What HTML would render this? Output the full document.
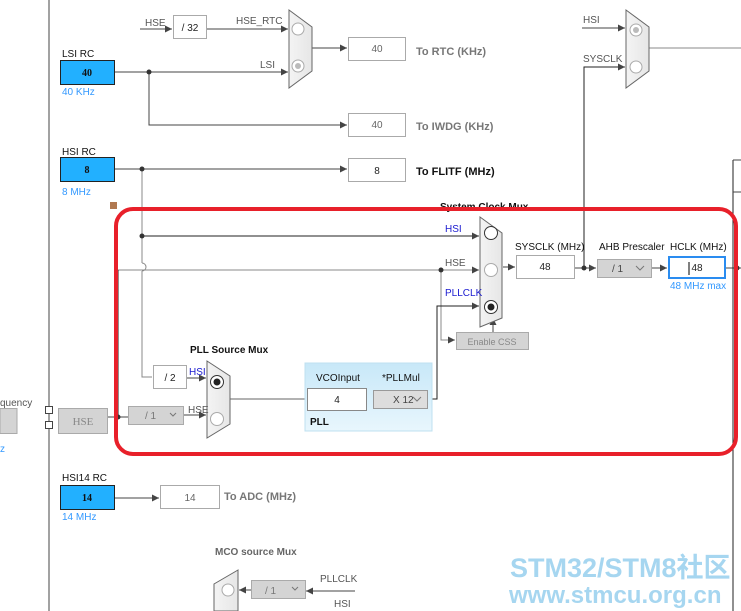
<!DOCTYPE html>
<html><head><meta charset="utf-8"><style>
html,body{margin:0;padding:0;background:#fff;}
svg{display:block;font-family:"Liberation Sans",sans-serif;}
</style></head><body>
<svg width="741" height="611" viewBox="0 0 741 611" xmlns="http://www.w3.org/2000/svg">
<defs>
<marker id="a" viewBox="0 0 10 10" refX="10" refY="5" markerWidth="8" markerHeight="7" orient="auto" markerUnits="userSpaceOnUse"><path d="M0,0 L10,5 L0,10 z" fill="#444"/></marker>
<linearGradient id="pll" x1="0" y1="0" x2="0" y2="1"><stop offset="0" stop-color="#c8e8f8"/><stop offset="1" stop-color="#e8f6fd"/></linearGradient>
<linearGradient id="mx" x1="0" y1="0" x2="1" y2="0"><stop offset="0" stop-color="#f4f4f4"/><stop offset="1" stop-color="#e6e6e6"/></linearGradient>
</defs>
<g stroke="#444" stroke-width="1" fill="none">
<line x1="49" y1="0" x2="49" y2="611"/>
<line x1="140" y1="29" x2="172" y2="29" marker-end="url(#a)"/>
<line x1="206" y1="29" x2="288" y2="29" marker-end="url(#a)"/>
<line x1="312" y1="48" x2="347" y2="48" marker-end="url(#a)"/>
<line x1="114" y1="72" x2="288" y2="72" marker-end="url(#a)"/>
<polyline points="149,72 149,125 347,125" marker-end="url(#a)"/>
<line x1="114" y1="169" x2="347" y2="169" marker-end="url(#a)"/>
<polyline stroke="#888" points="142,169 142,263"/>
<path stroke="#888" d="M142,263 a4,4 0 0 1 0,8"/>
<polyline stroke="#888" points="142,271 142,377 152,377"/>
<line x1="142" y1="236" x2="479" y2="236" stroke="#222" marker-end="url(#a)"/>
<line x1="118" y1="270" x2="479" y2="270" stroke="#888" marker-end="url(#a)"/>
<line x1="118" y1="270" x2="118" y2="417" stroke="#222"/>
<polyline stroke="#888" points="441,270 441,340 455,340" marker-end="url(#a)"/>
<polyline stroke="#222" points="427,399 437,399 437,306 479,306" marker-end="url(#a)"/>
<line x1="493" y1="332" x2="493" y2="318" marker-end="url(#a)"/>
<line x1="186" y1="378" x2="206" y2="378" marker-end="url(#a)"/>
<line x1="183" y1="415" x2="206" y2="415" marker-end="url(#a)"/>
<line x1="107" y1="417" x2="128" y2="417"/>
<line x1="230" y1="399" x2="306" y2="399" stroke="#666"/>
<line x1="366" y1="399" x2="373" y2="399"/>
<line x1="503" y1="267" x2="515" y2="267" marker-end="url(#a)"/>
<line x1="574" y1="268" x2="596" y2="268" marker-end="url(#a)"/>
<polyline stroke="#222" points="584,268 584,67 625,67" marker-end="url(#a)"/>
<line x1="582" y1="28" x2="625" y2="28" marker-end="url(#a)"/>
<line x1="649" y1="48" x2="741" y2="48" stroke="#888"/>
<line x1="651" y1="268" x2="667" y2="268" marker-end="url(#a)"/>
<line x1="726" y1="268" x2="741" y2="268"/>
<line x1="733" y1="160" x2="733" y2="611" stroke="#222"/>
<line x1="733" y1="160" x2="741" y2="160"/>
<line x1="733" y1="192" x2="741" y2="192"/>
<line x1="114" y1="498" x2="159" y2="498" marker-end="url(#a)"/>
<line x1="355" y1="591" x2="306" y2="591" marker-end="url(#a)"/>
<line x1="251" y1="590" x2="239" y2="590" marker-end="url(#a)"/>
</g>
<g fill="#333">
<circle cx="149" cy="72" r="2.5"/><circle cx="142" cy="169" r="2.5"/><circle cx="142" cy="236" r="2.5"/>
<circle cx="441" cy="270" r="2.5"/><circle cx="584" cy="268" r="2.5"/><circle cx="118" cy="417" r="2.5"/><circle cx="737" cy="268" r="2.5"/>
</g>
<g stroke="#666" fill="url(#mx)">
<polygon points="289,10 312,27 312,71 289,88"/>
<polygon points="626,10 649,27 649,71 626,88"/>
<polygon points="480,217 502,233 502,318 480,327"/>
<polygon points="207,361 230,376 230,424 207,438"/>
<polygon points="238,570 214,584 214,611 238,611"/>
</g>
<g stroke="#aaa" fill="#fff">
<circle cx="298" cy="29" r="6"/><circle cx="298" cy="66" r="6"/>
<circle cx="636" cy="30" r="6"/><circle cx="636" cy="67" r="6"/>
<circle cx="491" cy="270" r="6.5"/><circle cx="217" cy="419" r="6.5"/><circle cx="228" cy="590" r="6"/>
</g>
<g stroke="#333" fill="#fff"><circle cx="491" cy="233" r="6.5"/><circle cx="491" cy="307" r="6.5"/><circle cx="217" cy="382" r="6.5"/></g>
<g fill="#bbb"><circle cx="298" cy="66" r="3"/><circle cx="636" cy="30" r="3"/></g>
<g fill="#222"><circle cx="491" cy="307" r="3.5"/><circle cx="217" cy="382" r="3.5"/></g>
<g stroke="#aaa" fill="#fff">
<rect x="173.5" y="15.5" width="33" height="23"/>
<rect x="348.5" y="37.5" width="57" height="23"/>
<rect x="348.5" y="113.5" width="57" height="23"/>
<rect x="348.5" y="158.5" width="57" height="23"/>
<rect x="153.5" y="365.5" width="33" height="23"/>
<rect x="516.5" y="255.5" width="58" height="23"/>
<rect x="160.5" y="485.5" width="59" height="23"/>
</g>
<g stroke="#222" fill="#22b0ff">
<rect x="60.5" y="60.5" width="54" height="24"/>
<rect x="60.5" y="157.5" width="54" height="24"/>
<rect x="60.5" y="485.5" width="54" height="24"/>
</g>
<g stroke="#aaa" fill="#d4d4d4">
<rect x="128.5" y="406.5" width="55" height="18"/>
<rect x="58.5" y="408.5" width="49" height="25"/>
<rect x="0" y="408.5" width="17" height="25"/>
<rect x="456.5" y="332.5" width="72" height="17"/>
<rect x="597.5" y="259.5" width="54" height="18"/>
<rect x="251.5" y="580.5" width="54" height="18"/>
</g>
<rect x="45.5" y="406.5" width="7" height="7" fill="#fff" stroke="#444"/>
<rect x="45.5" y="421.5" width="7" height="7" fill="#fff" stroke="#444"/>
<rect x="305" y="363" width="127" height="68" fill="url(#pll)" stroke="#bfe0f0"/>
<rect x="307.5" y="388.5" width="59" height="22" fill="#fff" stroke="#888"/>
<rect x="373.5" y="390.5" width="54" height="18" fill="#ddd" stroke="#999"/>
<rect x="669" y="257" width="56" height="21" fill="#fff" stroke="#2a8cf0" stroke-width="2"/>
<g stroke="#777" fill="none"><polyline points="170,413 173,416 176,413"/><polyline points="636,266 640,270 644,266"/><polyline points="413,397 417,401 421,397"/><polyline points="292,587 295,590 298,587"/></g>
<g font-size="10" fill="#555">
<text x="145" y="26">HSE</text><text x="236" y="24">HSE_RTC</text><text x="260" y="68">LSI</text>
<text x="583" y="23">HSI</text><text x="583" y="62">SYSCLK</text>
<text x="445" y="266">HSE</text><text x="188" y="413">HSE</text>
<text x="0" y="406">quency</text><text x="0" y="452" fill="#3399ff">z</text>
<text x="320" y="582">PLLCLK</text><text x="334" y="607">HSI</text>
</g>
<g font-size="10" fill="#1a1ad0"><text x="445" y="232">HSI</text><text x="189" y="375">HSI</text><text x="445" y="296">PLLCLK</text></g>
<g font-size="10" fill="#111">
<text x="62" y="57">LSI RC</text><text x="62" y="155">HSI RC</text><text x="62" y="481">HSI14 RC</text>
<text x="515" y="250">SYSCLK (MHz)</text><text x="599" y="250">AHB Prescaler</text><text x="670" y="250">HCLK (MHz)</text>
<text x="316" y="381">VCOInput</text><text x="382" y="381">*PLLMul</text>
</g>
<g font-size="10" fill="#3399ff"><text x="62" y="95">40 KHz</text><text x="62" y="195">8 MHz</text><text x="62" y="520">14 MHz</text><text x="670" y="289">48 MHz max</text></g>
<g font-size="10" font-weight="bold" text-anchor="middle" fill="#111" font-family="Liberation Serif,serif">
<text x="87" y="76">40</text><text x="87" y="173">8</text><text x="87" y="501">14</text></g>
<g font-size="10" text-anchor="middle" fill="#222">
<text x="190" y="31">/ 32</text><text x="377" y="52" fill="#666">40</text><text x="377" y="128" fill="#666">40</text><text x="377" y="174">8</text>
<text x="170" y="381">/ 2</text><text x="545" y="270">48</text><text x="190" y="501" fill="#666">14</text>
<text x="337" y="403">4</text><text x="697" y="271">48</text>
</g>
<g font-size="10" fill="#444"><text x="145" y="419" fill="#777">/ 1</text><text x="393" y="403">X 12</text><text x="612" y="272">/ 1</text><text x="265" y="594" fill="#777">/ 1</text></g>
<text x="83" y="425" font-size="11" text-anchor="middle" fill="#888" font-family="Liberation Serif,serif">HSE</text>
<text x="492" y="345" font-size="9" text-anchor="middle" fill="#888">Enable CSS</text>
<g font-size="11" font-weight="bold">
<text x="416" y="55" fill="#777">To RTC (KHz)</text><text x="416" y="130" fill="#777">To IWDG (KHz)</text><text x="416" y="175" fill="#111">To FLITF (MHz)</text>
<text x="224" y="500" fill="#777">To ADC (MHz)</text><text x="215" y="555" fill="#666" font-size="10">MCO source Mux</text>
<text x="190" y="353" fill="#111" font-size="10">PLL Source Mux</text><text x="310" y="425" fill="#111" font-size="10">PLL</text>
<text x="440" y="210" fill="#111" font-size="10">System Clock Mux</text>
</g>
<line x1="689" y1="262" x2="689" y2="275" stroke="#000"/>
<rect x="110" y="202" width="7" height="7" fill="#b07850"/>
<rect x="116" y="209" width="620" height="245" rx="17" fill="none" stroke="#e8202a" stroke-width="4"/>
<g font-weight="bold" fill="#a6d6f0" font-family="Liberation Sans,'Noto Sans CJK SC',sans-serif">
<text x="510" y="577" font-size="27">STM32/STM8社区</text>
<text x="509" y="603" font-size="24">www.stmcu.org.cn</text>
</g>
</svg>
</body></html>
